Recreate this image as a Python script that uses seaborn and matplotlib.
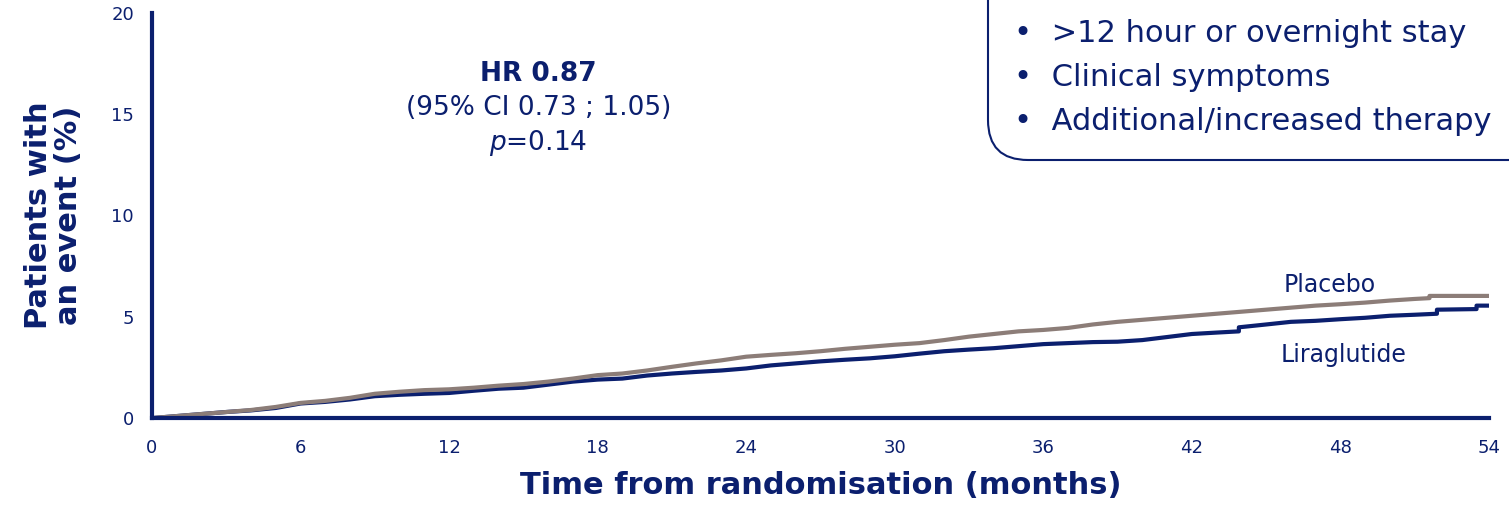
import numpy as np
import pandas as pd
import matplotlib.pyplot as plt
import seaborn as sns
from matplotlib.patches import FancyBboxPatch

# cumulative incidence (months, %)
placebo_t = [0, 1, 2, 3, 4, 5, 6, 7, 8, 9, 10, 11, 12, 13, 14, 15, 16, 17, 18,
             19, 20, 21, 22, 23, 24, 25, 26, 27, 28, 29, 30, 31, 32, 33, 34, 35,
             36, 37, 38, 39, 40, 41, 42, 43, 44, 45, 46, 47, 48, 49, 50, 51,
             51.6, 51.6, 54]
placebo_y = [0, 0.1, 0.2, 0.3, 0.4, 0.55, 0.75, 0.85, 1.0, 1.2, 1.3, 1.38, 1.42,
             1.5, 1.6, 1.68, 1.8, 1.95, 2.12, 2.2, 2.35, 2.53, 2.7, 2.85, 3.03,
             3.12, 3.2, 3.3, 3.42, 3.52, 3.62, 3.7, 3.85, 4.02, 4.15, 4.28, 4.35,
             4.45, 4.62, 4.75, 4.85, 4.95, 5.05, 5.15, 5.25, 5.35, 5.45, 5.55,
             5.62, 5.7, 5.8, 5.88, 5.92, 6.03, 6.03]

lira_t = [0, 1, 2, 3, 4, 5, 6, 7, 8, 9, 10, 11, 12, 13, 14, 15, 16, 17, 18,
          19, 20, 21, 22, 23, 24, 25, 26, 27, 28, 29, 30, 31, 32, 33, 34, 35,
          36, 37, 38, 39, 40, 41, 42, 43, 43.9, 43.9, 45, 46, 47, 48, 49, 50,
          51, 51.9, 51.9, 53.5, 53.5, 54]
lira_y = [0, 0.1, 0.2, 0.3, 0.38, 0.5, 0.72, 0.8, 0.92, 1.08, 1.15, 1.2, 1.24,
          1.35, 1.45, 1.5, 1.65, 1.8, 1.9, 1.95, 2.1, 2.2, 2.28, 2.35, 2.45,
          2.6, 2.7, 2.8, 2.88, 2.95, 3.05, 3.18, 3.3, 3.38, 3.45, 3.55, 3.65,
          3.7, 3.75, 3.77, 3.85, 4.0, 4.15, 4.22, 4.28, 4.48, 4.62, 4.75, 4.8,
          4.88, 4.95, 5.05, 5.1, 5.15, 5.35, 5.38, 5.55, 5.55]

x_ticks = [0, 6, 12, 18, 24, 30, 36, 42, 48, 54]
y_ticks = [0, 5, 10, 15, 20]

bullets = [">12 hour or overnight stay", "Clinical symptoms",
           "Additional/increased therapy"]

navy = "#0b1f6e"
grey = "#8c7d78"

sns.set_theme(style="white")
plt.rcParams['font.family'] = ['DejaVu Sans']

df = pd.concat([
    pd.DataFrame({'month': placebo_t, 'pct': placebo_y, 'arm': 'Placebo'}),
    pd.DataFrame({'month': lira_t, 'pct': lira_y, 'arm': 'Liraglutide'}),
], ignore_index=True)

fig = plt.figure(figsize=(15.09, 5.13), dpi=100)
ax = fig.add_axes([0.1007, 0.185, 0.886, 0.79])

sns.lineplot(data=df, x='month', y='pct', hue='arm', estimator=None,
             sort=False, palette={'Placebo': grey, 'Liraglutide': navy},
             hue_order=['Liraglutide', 'Placebo'],
             linewidth=3, legend=False, ax=ax)

ax.set_xlim(0, 54)
ax.set_ylim(0, 20)
ax.set_xticks(x_ticks)
ax.set_yticks(y_ticks)
ax.tick_params(axis='both', colors=navy, labelcolor=navy, labelsize=13,
               length=7, width=2.5, direction='out')
ax.tick_params(axis='x', pad=8)
ax.tick_params(axis='y', pad=6)
for side in ['top', 'right']:
    ax.spines[side].set_visible(False)
for side in ['left', 'bottom']:
    ax.spines[side].set_color(navy)
    ax.spines[side].set_linewidth(3)

ax.set_xlabel("Time from randomisation (months)", fontsize=22,
              fontweight='bold', color=navy, labelpad=10)
ax.set_ylabel("Patients with\nan event (%)", fontsize=22, fontweight='bold',
              color=navy, labelpad=20, linespacing=1.05)

# curve labels
ax.text(45.7, 6.55, "Placebo", fontsize=17, color=navy, va='center')
ax.text(45.6, 3.1, "Liraglutide", fontsize=17, color=navy, va='center')

# hazard ratio annotation
ax.text(15.6, 17.0, "HR 0.87", fontsize=19, fontweight='bold', color=navy,
        ha='center', va='center')
ax.text(15.6, 15.3, "(95% CI 0.73 ; 1.05)", fontsize=19, color=navy,
        ha='center', va='center')
ax.text(15.6, 13.6, "$p$=0.14", fontsize=19, color=navy,
        ha='center', va='center')

# endpoint definition box, cut off by the figure edge (sizes in inches)
box = FancyBboxPatch((9.88, 3.53), 6.0, 3.0,
                     boxstyle="round,pad=0,rounding_size=0.4",
                     transform=fig.dpi_scale_trans, facecolor='white',
                     edgecolor=navy, linewidth=1.5)
fig.patches.append(box)
for i, b in enumerate(bullets):
    fig.text(1014 / 1509, 1 - (33 + 44 * i) / 513, "\u2022  " + b,
             fontsize=22, color=navy, va='center')

fig.savefig("out.png", dpi=100)
